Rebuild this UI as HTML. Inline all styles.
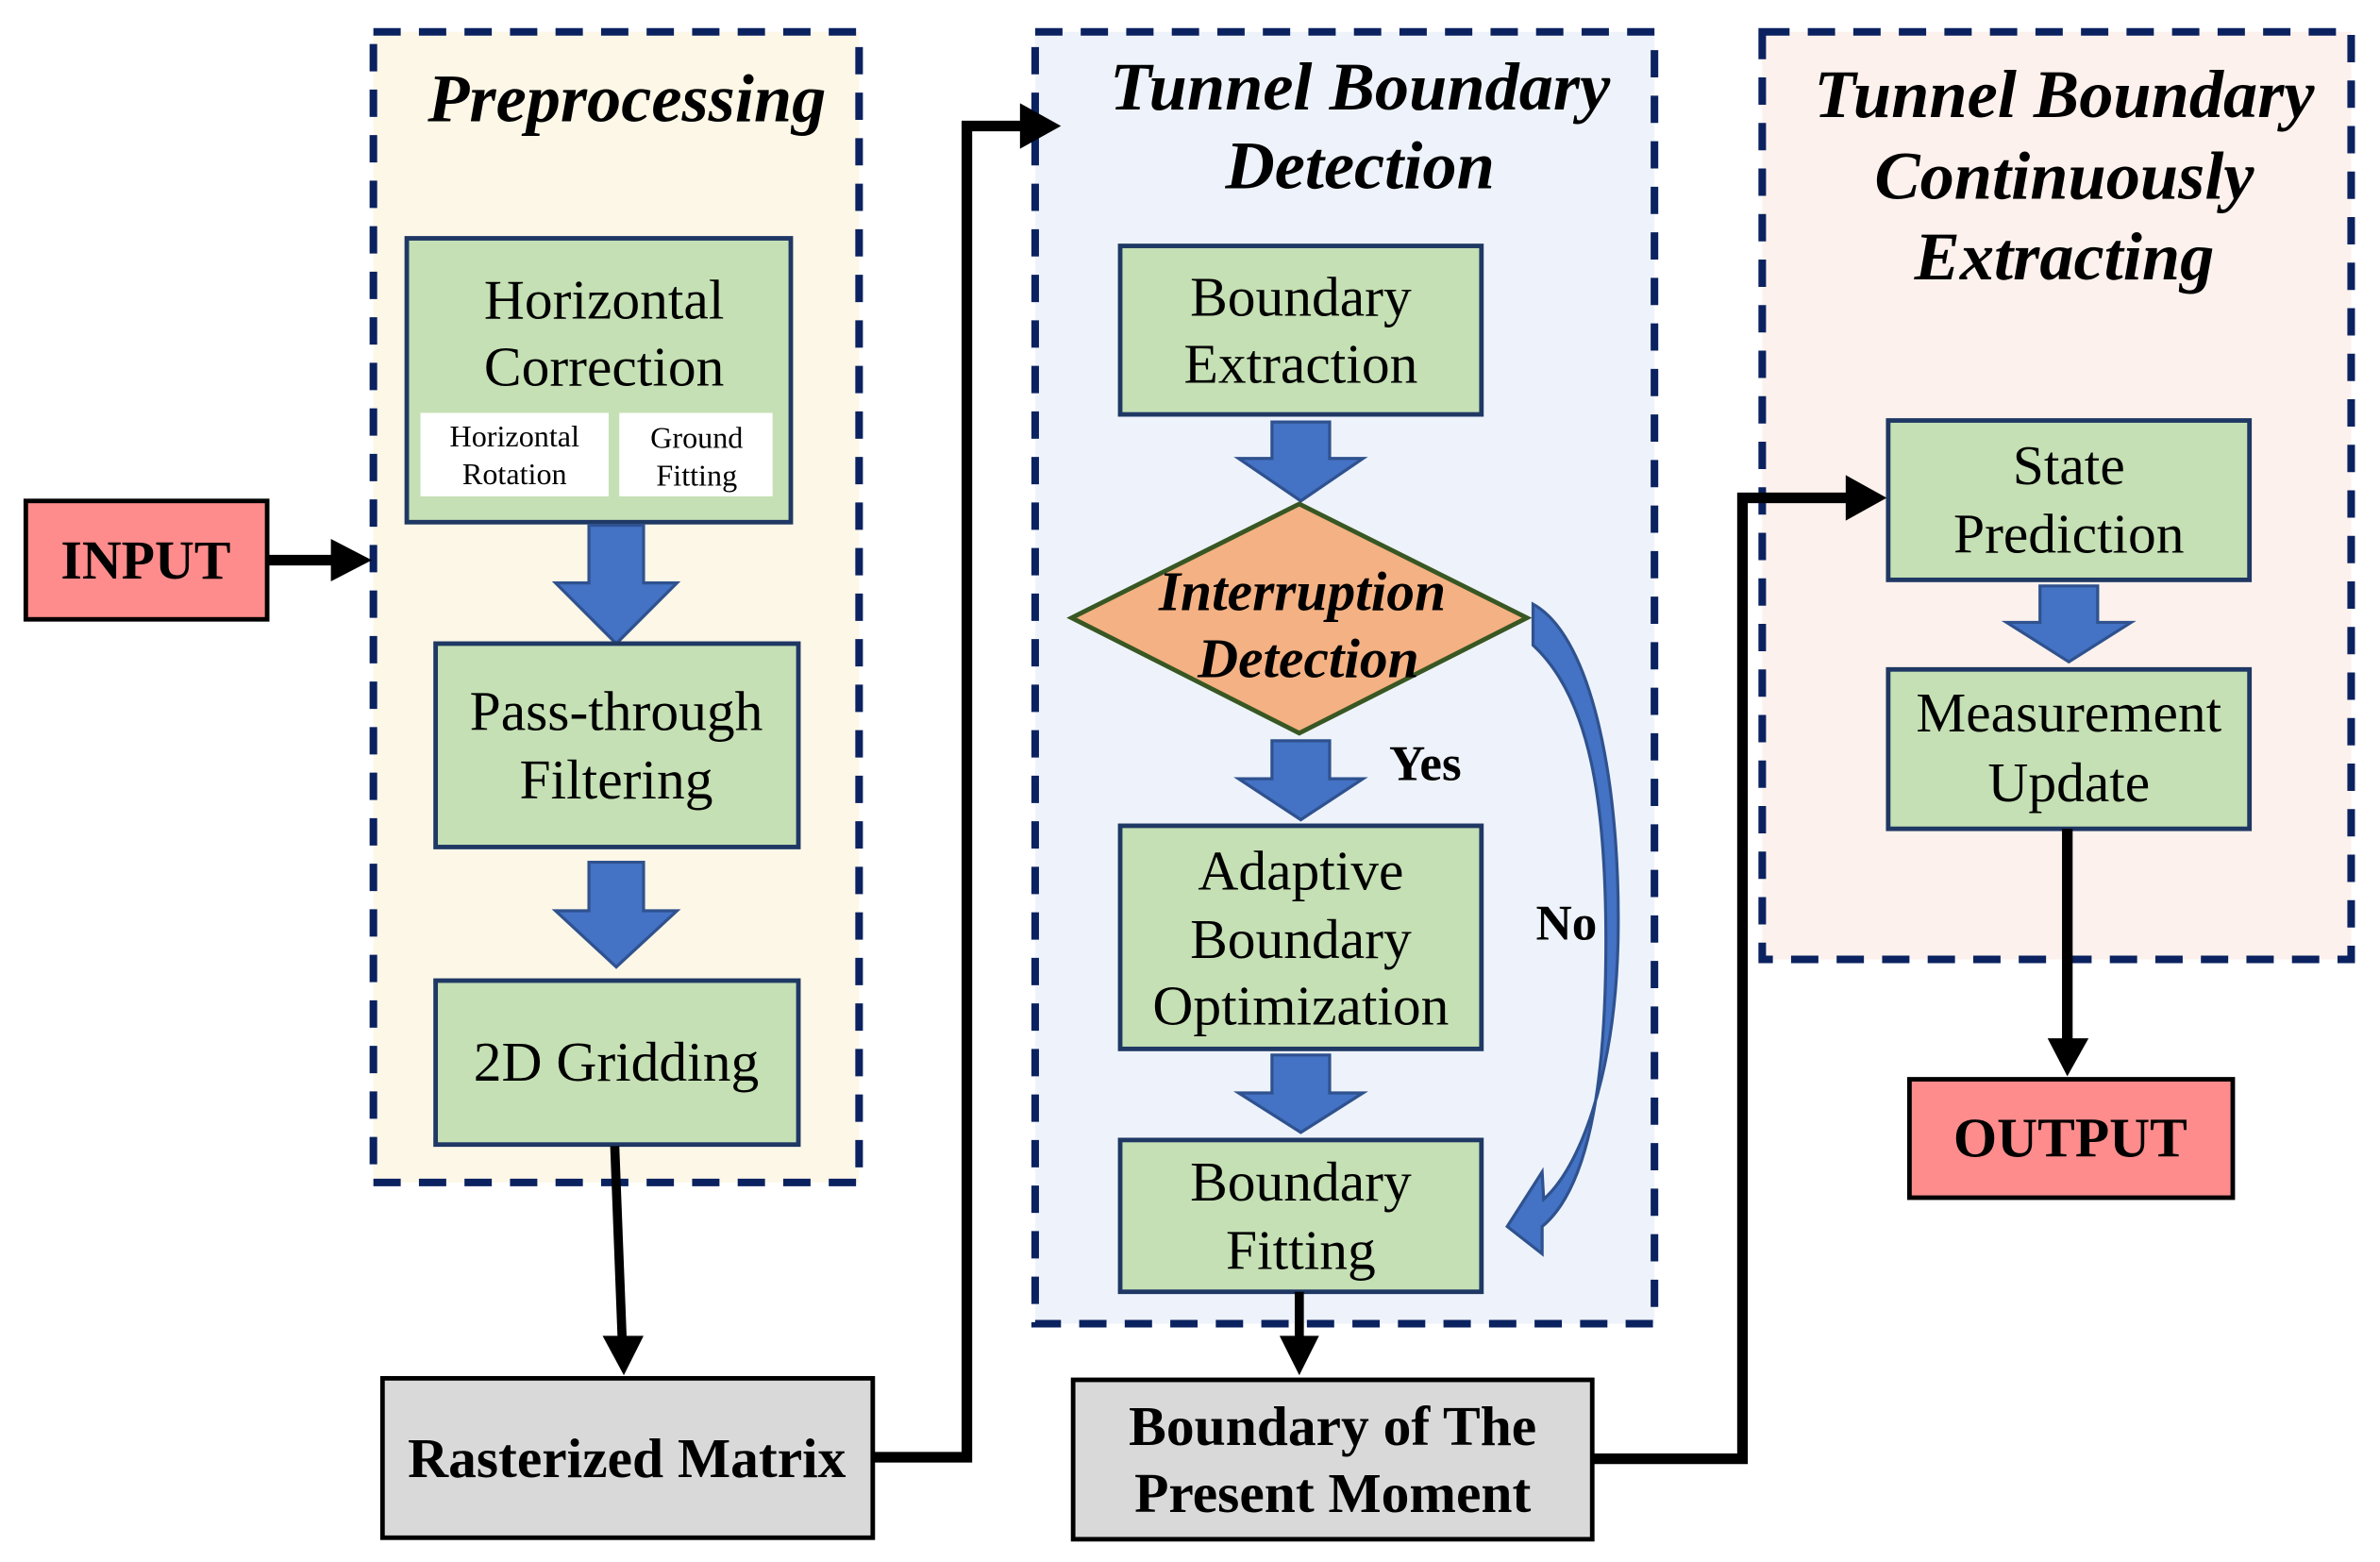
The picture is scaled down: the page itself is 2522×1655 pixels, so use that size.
<!DOCTYPE html>
<html><head><meta charset="utf-8"><style>
html,body{margin:0;padding:0;background:#fff;}
svg{display:block;}
text{font-family:"Liberation Serif",serif;fill:#000;}
.t{font-size:37px;text-anchor:middle;}
.b{font-weight:bold;}
.bi{font-weight:bold;font-style:italic;}
.g{fill:#c5e0b4;stroke:#1f3864;stroke-width:3;}
.ba{fill:#4472c4;stroke:#2f528f;stroke-width:2;}
.dash{stroke:#0b2260;stroke-width:5;stroke-dasharray:18 12;}
</style></head><body>
<svg width="2522" height="1655" viewBox="0 0 1568 1029" preserveAspectRatio="none" xmlns="http://www.w3.org/2000/svg">
<rect x="246" y="21" width="320" height="758" fill="#fdf7e7" class="dash"/>
<rect x="682" y="21" width="408" height="851" fill="#eef3fb" class="dash"/>
<rect x="1161" y="21" width="388" height="611" fill="#fcf1ec" class="dash"/>

<text x="413" y="80" class="bi" style="font-size:45px" text-anchor="middle">Preprocessing</text>
<text x="896" y="72" class="bi" style="font-size:45px" text-anchor="middle">Tunnel Boundary</text>
<text x="896" y="124" class="bi" style="font-size:45px" text-anchor="middle">Detection</text>
<text x="1360" y="77" class="bi" style="font-size:45px" text-anchor="middle">Tunnel Boundary</text>
<text x="1360" y="131" class="bi" style="font-size:45px" text-anchor="middle">Continuously</text>
<text x="1360" y="184" class="bi" style="font-size:45px" text-anchor="middle">Extracting</text>

<rect x="17" y="330" width="159" height="78" fill="#ff8c8c" stroke="#000" stroke-width="3"/>
<text x="96" y="381" class="t b" style="font-size:36px">INPUT</text>
<line x1="176" y1="369" x2="222" y2="369" stroke="#000" stroke-width="7"/>
<polygon points="218,355 245,369 218,383" fill="#000"/>

<rect x="268" y="157" width="253" height="187" class="g"/>
<text x="398" y="210" class="t">Horizontal</text>
<text x="398" y="254" class="t">Correction</text>
<rect x="277" y="272" width="124" height="55" fill="#fff"/>
<rect x="408" y="272" width="101" height="55" fill="#fff"/>
<text x="339" y="294" class="t" style="font-size:20px">Horizontal</text>
<text x="339" y="319" class="t" style="font-size:20px">Rotation</text>
<text x="459" y="295" class="t" style="font-size:20px">Ground</text>
<text x="459" y="320" class="t" style="font-size:20px">Fitting</text>

<polygon class="ba" points="388,346 424,346 424,384 446,384 406,424 366,384 388,384"/>
<rect x="287" y="424" width="239" height="134" class="g"/>
<text x="406" y="481" class="t">Pass-through</text>
<text x="406" y="526" class="t">Filtering</text>
<polygon class="ba" points="388,568 424,568 424,600 446,600 406,637 366,600 388,600"/>
<rect x="287" y="646" width="239" height="108" class="g"/>
<text x="406" y="712" class="t">2D Gridding</text>

<line x1="405" y1="755" x2="410" y2="885" stroke="#000" stroke-width="6"/>
<polygon points="397,880 424,880 411,906" fill="#000"/>
<rect x="252" y="908" width="323" height="105" fill="#d9d9d9" stroke="#000" stroke-width="3"/>
<text x="413" y="973" class="t b">Rasterized Matrix</text>
<polyline points="575,960 637,960 637,83 675,83" fill="none" stroke="#000" stroke-width="7"/>
<polygon points="672,68 699,83 672,98" fill="#000"/>

<rect x="738" y="162" width="238" height="111" class="g"/>
<text x="857" y="208" class="t">Boundary</text>
<text x="857" y="252" class="t">Extraction</text>
<polygon class="ba" points="838,278 876,278 876,302 898,302 857,330 816,302 838,302"/>
<polygon points="706,407 856,332 1006,407 856,483" fill="#f4b183" stroke="#385723" stroke-width="3"/>
<text x="858" y="402" class="bi" style="font-size:37px" text-anchor="middle">Interruption</text>
<text x="862" y="446" class="bi" style="font-size:37px" text-anchor="middle">Detection</text>
<polygon class="ba" points="838,488 876,488 876,513 898,513 857,540 816,513 838,513"/>
<text x="939" y="514" class="b" style="font-size:33px" text-anchor="middle">Yes</text>
<rect x="738" y="544" width="238" height="147" class="g"/>
<text x="857" y="586" class="t">Adaptive</text>
<text x="857" y="631" class="t">Boundary</text>
<text x="857" y="675" class="t">Optimization</text>
<polygon class="ba" points="838,695 876,695 876,720 898,720 857,746 816,720 838,720"/>
<rect x="738" y="751" width="238" height="100" class="g"/>
<text x="857" y="791" class="t">Boundary</text>
<text x="857" y="836" class="t">Fitting</text>
<path class="ba" d="M1010,398 C1050,420 1068,520 1066,620 C1064,710 1040,770 1017,790 L1016,772 L993,808 L1016,826 L1016,808 C1050,780 1058,700 1058,620 C1058,530 1048,460 1010,425 Z"/>
<text x="1032" y="619" class="b" style="font-size:33px" text-anchor="middle">No</text>

<line x1="856" y1="851" x2="856" y2="884" stroke="#000" stroke-width="6"/>
<polygon points="843,880 869,880 856,906" fill="#000"/>
<rect x="707" y="909" width="342" height="105" fill="#d9d9d9" stroke="#000" stroke-width="3"/>
<text x="878" y="952" class="t b">Boundary of The</text>
<text x="878" y="996" class="t b">Present Moment</text>
<polyline points="1049,961 1148,961 1148,328 1220,328" fill="none" stroke="#000" stroke-width="7"/>
<polygon points="1216,313 1243,328 1216,343" fill="#000"/>

<rect x="1244" y="277" width="238" height="105" class="g"/>
<text x="1363" y="319" class="t">State</text>
<text x="1363" y="364" class="t">Prediction</text>
<polygon class="ba" points="1344,386 1382,386 1382,410 1404,410 1363,436 1322,410 1344,410"/>
<rect x="1244" y="441" width="238" height="105" class="g"/>
<text x="1363" y="482" class="t">Measurement</text>
<text x="1363" y="528" class="t">Update</text>
<line x1="1362" y1="546" x2="1362" y2="688" stroke="#000" stroke-width="7"/>
<polygon points="1349,684 1376,684 1362,709" fill="#000"/>
<rect x="1258" y="711" width="213" height="78" fill="#ff8c8c" stroke="#000" stroke-width="3"/>
<text x="1364" y="762" class="t b">OUTPUT</text>
</svg>
</body></html>
